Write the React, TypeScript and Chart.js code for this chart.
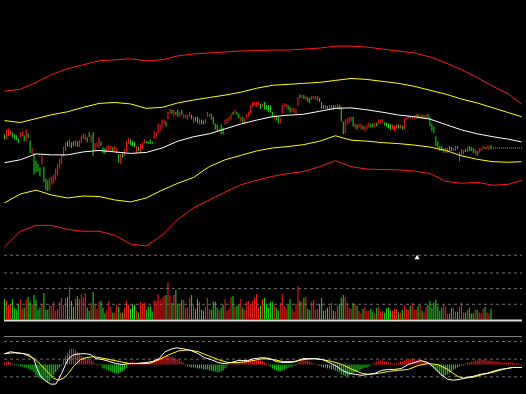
import React, { useEffect, useRef } from 'react';
import { Chart, registerables } from 'chart.js';

Chart.register(...registerables);

const WIDTH = 526;
const HEIGHT = 394;

// shared session axis (248 sessions, with room on the right for the indicator lines)
const X_MIN = -0.25;
const X_MAX = 262.75;

// ---------- price panel ----------
// 1 = up session (red), 0 = down session (green)
const candleUp =
  '0111000011' + '0100100001' + '0001111111' + '1101001011' + '1100101110' +
  '0011101101' + '0111000101' + '1100001111' + '1101101001' + '0111101001' +
  '0011100001' + '0011110100' + '1011111111' + '0100000100' + '1111001111' +
  '0101001111' + '0001011011' + '0001111010' + '1101110010' + '1110000111' +
  '0101110111' + '0101100000' + '0001110011' + '0111010001' + '01110110';

const highs = [
  167, 172, 173, 171, 169, 167, 166, 163, 169, 170,
  166, 172, 168, 161, 153, 148, 140, 137, 133, 145,
  134, 122, 120, 123, 124, 126, 132, 137, 142, 147,
  154, 159, 160, 162, 159, 160, 161, 160, 161, 166,
  168, 167, 164, 169, 166, 169, 158, 159, 164, 160,
  154, 153, 155, 156, 155, 154, 155, 153, 147, 147,
  148, 152, 160, 163, 162, 160, 159, 155, 154, 157,
  159, 162, 160, 160, 162, 160, 170, 169, 178, 177,
  182, 182, 180, 190, 193, 192, 192, 190, 192, 190,
  192, 188, 187, 187, 190, 187, 185, 185, 185, 183,
  182, 181, 183, 190, 188, 188, 185, 178, 177, 173,
  177, 174, 182, 183, 185, 188, 190, 192, 190, 188,
  185, 185, 183, 188, 190, 197, 200, 200, 200, 200,
  198, 198, 200, 197, 197, 197, 190, 187, 186, 185,
  184, 197, 199, 198, 197, 195, 194, 194, 193, 205,
  208, 207, 207, 206, 205, 204, 206, 206, 206, 206,
  204, 200, 197, 197, 196, 197, 197, 197, 197, 198,
  197, 195, 180, 182, 183, 185, 185, 185, 178, 177,
  178, 178, 176, 175, 177, 179, 178, 178, 179, 179,
  182, 182, 182, 179, 179, 178, 177, 177, 176, 177,
  177, 177, 176, 183, 185, 186, 185, 185, 185, 188,
  188, 187, 187, 187, 187, 188, 185, 178, 175, 165,
  160, 155, 155, 153, 153, 153, 155, 154, 153, 155,
  155, 149, 152, 151, 152, 154, 155, 154, 153, 152,
  150, 153, 153, 155, 154, 155, 155, 156,
];

const lows = [
  162, 162, 165, 166, 164, 162, 161, 158, 164, 165,
  160, 160, 163, 148, 147, 126, 128, 129, 124, 136,
  118, 110, 109, 110, 116, 117, 120, 125, 132, 137,
  144, 150, 154, 154, 153, 155, 155, 154, 154, 158,
  162, 161, 159, 164, 159, 145, 150, 154, 153, 155,
  148, 147, 149, 150, 149, 149, 150, 148, 138, 137,
  143, 145, 150, 157, 156, 155, 154, 148, 150, 148,
  152, 158, 158, 157, 157, 157, 162, 163, 168, 170,
  173, 177, 175, 182, 188, 188, 185, 187, 185, 185,
  187, 183, 183, 182, 185, 182, 178, 180, 178, 177,
  177, 177, 178, 185, 185, 182, 177, 172, 170, 170,
  167, 167, 177, 178, 180, 182, 187, 188, 187, 183,
  180, 178, 178, 183, 185, 188, 195, 197, 195, 197,
  193, 195, 192, 192, 190, 189, 184, 182, 181, 178,
  178, 188, 195, 194, 192, 189, 190, 189, 188, 196,
  204, 204, 203, 202, 200, 199, 202, 203, 202, 201,
  200, 193, 193, 193, 193, 192, 193, 192, 193, 193,
  192, 180, 167, 168, 177, 178, 180, 175, 173, 172,
  174, 172, 172, 170, 172, 174, 174, 174, 174, 175,
  177, 178, 179, 176, 175, 173, 172, 172, 170, 173,
  173, 173, 172, 172, 182, 183, 183, 182, 182, 183,
  183, 183, 183, 183, 183, 183, 175, 170, 168, 155,
  153, 150, 150, 148, 148, 148, 150, 150, 150, 150,
  152, 139, 145, 146, 149, 149, 150, 150, 148, 147,
  145, 148, 150, 152, 152, 152, 151, 152,
];

const lastClose = 153;
const lastCloseStartIdx = 248;
const markerIdx = 209.5;
const markerPrice = 41;

// band lines (sampled sessions)
const bandIdx = [
  0, 8, 16, 24, 32, 40, 48, 56, 64, 72, 80, 88, 96, 104, 112, 120, 128,
  136, 144, 152, 160, 168, 176, 184, 192, 200, 208, 216, 224, 232, 240, 248, 256, 262.5,
];
const outerUpper = [
  211, 213, 220, 228, 234, 238, 242, 243, 244, 242,
  243, 247, 249, 250, 251, 252, 252.5, 253, 253, 254,
  255, 257, 257, 256, 254, 252, 250, 246, 240, 233,
  225, 216, 208, 198,
];
const innerUpper = [
  181, 179, 183, 187, 190, 194.5, 198.5, 199.5, 198, 193.5,
  194.5, 199, 202, 204.5, 207, 210, 214, 217, 218, 219,
  220, 222, 224, 223, 221, 219, 216, 212, 208, 203,
  199, 194, 189, 185,
];
const middle = [
  138, 141, 147, 146, 146, 149, 150.5, 149, 147.5, 148.5,
  153, 160, 164.5, 167.5, 172.5, 177.5, 181.5, 185, 186.5, 187.5,
  190.5, 193.5, 194, 192, 189.5, 186.7, 185, 182.5, 177, 171.5,
  167.5, 164.5, 162, 159.2,
];
const innerLower = [
  97, 106, 110, 105, 102, 104, 103.5, 100, 98, 102,
  110, 117, 123, 134, 141, 145.5, 150, 153, 154.5, 156.5,
  160, 165.5, 161, 160, 158.5, 157.5, 156, 154, 150.5, 145,
  141.5, 139, 138.5, 139,
];
const outerLower = [
  52, 68, 74, 74, 70, 68, 68, 64, 55, 53,
  64, 80, 92, 100, 108, 115.5, 120, 124, 127, 129,
  134, 140, 134, 131.5, 131, 130.7, 129.5, 127, 119, 117,
  118, 115, 116, 120,
];

// ---------- volume panel ----------
const volumes = [
  21, 19, 15, 15, 21, 12, 10, 16, 21, 11,
  12, 20, 23, 18, 16, 25, 20, 10, 12, 16,
  27, 10, 10, 15, 14, 18, 9, 11, 18, 22,
  15, 22, 23, 33, 19, 13, 21, 24, 21, 25,
  23, 27, 12, 9, 17, 28, 15, 11, 18, 19,
  12, 6, 10, 19, 13, 7, 7, 15, 13, 7,
  7, 12, 19, 15, 11, 15, 15, 9, 7, 18,
  16, 17, 10, 13, 14, 8, 19, 19, 26, 20,
  22, 24, 25, 38, 25, 17, 25, 30, 16, 16,
  20, 20, 12, 12, 22, 25, 15, 11, 21, 18,
  10, 9, 13, 22, 11, 10, 18, 18, 12, 10,
  12, 15, 21, 9, 11, 23, 24, 13, 14, 15,
  21, 12, 10, 18, 19, 15, 19, 23, 26, 12,
  14, 21, 22, 16, 12, 18, 18, 14, 12, 9,
  17, 26, 14, 11, 15, 21, 11, 8, 16, 34,
  19, 18, 22, 23, 11, 10, 18, 20, 10, 11,
  16, 22, 9, 10, 12, 14, 17, 9, 8, 14,
  16, 22, 25, 23, 17, 12, 11, 17, 16, 14,
  9, 6, 11, 13, 9, 9, 11, 8, 6, 12,
  13, 8, 9, 7, 12, 12, 9, 9, 11, 11,
  7, 7, 10, 15, 11, 10, 14, 17, 10, 10,
  14, 15, 9, 7, 13, 15, 19, 12, 17, 20,
  14, 9, 12, 15, 13, 6, 6, 12, 12, 8,
  8, 13, 17, 7, 7, 10, 12, 6, 6, 10,
  10, 7, 6, 11, 13, 7, 6, 11,
];
const volGridLevels = [65.5, 47.5, 31.5, 15.5];
const volBaseLevel = -1;

// ---------- MACD panel (units of 0.01) ----------
const macdHist = [
  2, 3, 3, 2, 1, -1,
  -1, -1, -2, -2, -3, -3, -4, -5, -6, -8,
  -11, -13, -14, -15, -16, -17, -18, -17, -14, -11, -8,
  -5, -3, -1,
  6, 9, 12, 15, 16, 16, 15, 13, 11, 9, 8, 7, 6, 5, 4, 3,
  1, -1, 1, -1,
  -4, -4, -5, -6, -7, -8, -9, -9, -9, -8, -7, -5, -3,
  1, 2, 3, 2,
  1, 1, 2, 1, 1, 2, 2, 3, 3, 4,
  5, 6, 7, 8, 8, 9, 9, 8, 8, 7, 6, 5, 4, 3, 2,
  -1, -2, -2, -3, -3, -3, -4, -4, -4, -5,
  -5, -5, -6, -6, -7, -7, -8, -8, -7, -6, -4, -2,
  1, 2, 3, 3, 2, 2, 1,
  3, 4, 5, 5, 5, 6, 5, 4, 5, 4, 3,
  2, 1, 1,
  -2, -4, -5, -6, -7, -7, -6, -5, -4, -3, -2, -2, -1, -1,
  2, 4, 5, 5, 4, 4, 3, 2, 1, 1,
  -1, -1, -2, -3, -3, -4, -4, -5, -5, -6, -7, -8, -10, -11, -12, -12, -11, -10, -9, -8,
  -7, -6, -5, -4, -3, -3, -2, -1,
  1, 2, 3, 4, 4, 4, 3, 3, 2, 2, 1, 1, 1, 2, 3,
  3, 4, 5, 5, 6, 6, 6, 5, 5, 4, 4, 3, 3, 2, 1,
  -2, -4, -6, -8, -10, -12, -12, -11, -10, -9, -7, -5, -4, -3, -2, -1, -1,
  1, 2, 2, 3, 3, 4, 4, 5, 5, 5, 5, 4, 4, 4, 3, 3, 3, 3, 2, 2,
  2, 2, 2, 2, 2, 1, 1, 1,
];
const difIdx = [
  0, 3, 10, 12.5, 15, 16.5, 18.3, 21, 23.5, 26,
  27.5, 29, 31, 32.5, 35, 38.5, 41.5, 44, 46.5, 50,
  53.5, 56.5, 60, 63.5, 66.5, 71.5, 75, 78.5, 81.5, 85,
  87.5, 91, 95, 98.5, 101.5, 105, 108.5, 111.5, 115, 118.5,
  123.5, 126.5, 131.5, 135, 138, 141.5, 145, 148, 151.5, 155,
  158, 161.5, 165, 168, 171.5, 175, 178, 181.5, 185, 188,
  191.5, 195, 198, 201.5, 205, 208, 211.5, 215, 218, 221.5,
  225, 228, 231.5, 235, 238, 241.5, 245, 248, 251.5, 255,
  258, 262.75,
];
const difVals = [
  11, 13, 11, 10, 5, -4, -12, -17, -20, -20,
  -15, -9, 0, 6, 10, 11, 11, 10, 6, 5,
  3, 1, 0, 1, 1, 2, 3, 6, 13, 16,
  17, 16, 14, 11, 7, 5, 2, 1, 2, 4,
  4, 6, 7, 6, 3, 2, 2, 3, 6, 6,
  6, 5, 2, -1, -6, -9, -10, -11, -10, -9,
  -6, -5, -5, -4, 0, 2, 4, 2, -3, -10,
  -15, -16, -15, -13, -12, -10, -9, -7, -5, -4,
  -3, -3,
];
const deaIdx = [
  0, 5, 10, 15, 18.3, 21.5, 25, 27.5, 30, 32.5,
  35, 38.5, 41.5, 45, 48.5, 53.5, 58.5, 63.5, 68.5, 73.5,
  78.5, 83.5, 88.5, 93.5, 98.5, 103.5, 108.5, 113.5, 118.5, 123.5,
  128.5, 131.5, 136.5, 141.5, 146.5, 151.5, 156.5, 161.5, 166.5, 171.5,
  176.5, 181.5, 185, 190, 195, 200, 205, 210, 215, 220,
  225, 230, 233, 238, 243, 248, 253, 258, 262.75,
];
const deaVals = [
  11, 12, 11, 6, 0, -7, -14, -16, -14, -9,
  -2, 5, 7, 8, 7, 5, 3, 1, 1, 1,
  5, 10, 14, 15, 13, 9, 5, 2, 2, 3,
  5, 6, 5, 3, 3, 5, 6, 5, 3, 0,
  -5, -9, -10, -9, -7, -6, -5, -1, 1, 0,
  -5, -12, -14, -13, -10, -8, -5, -3, -3,
];
const macdGridLevels = [23.5, 5.5, -12.5];
const macdTopLevel = 28.5;

// ---------- colours ----------
const UP = '#ff2020';
const DOWN = '#18e018';
const GRID = '#6e6e6e';

export default function App() {
  const canvasRef = useRef<HTMLCanvasElement | null>(null);

  useEffect(() => {
    const canvas = canvasRef.current;
    if (!canvas) return;

    const pts = (xs: number[], ys: number[]) => xs.map((x, k) => ({ x, y: ys[k] }));
    const line = (data: any[], color: string, axis: string, order: number, extra: any = {}) => ({
      type: 'line',
      data,
      borderColor: color,
      borderWidth: 1,
      pointRadius: 0,
      tension: 0,
      fill: false,
      yAxisID: axis,
      order,
      ...extra,
    });
    const hline = (level: number, color: string, axis: string, order: number, extra: any = {}) =>
      line([{ x: X_MIN, y: level }, { x: X_MAX, y: level }], color, axis, order, extra);
    const dirColor = (i: number) => (candleUp[i] === '1' ? UP : DOWN);

    const bar = (data: any[], colors: string[], axis: string) => ({
      type: 'bar',
      data,
      backgroundColor: colors,
      borderWidth: 0,
      barThickness: 1,
      maxBarThickness: 1,
      grouped: false,
      inflateAmount: 0,
      yAxisID: axis,
      order: 2,
    });

    const chart = new Chart(canvas, {
      type: 'bar',
      data: {
        datasets: [
          line(pts(difIdx, difVals), '#ffffff', 'yMacd', 0),
          line(pts(deaIdx, deaVals), '#ffff00', 'yMacd', 0),
          {
            type: 'line',
            data: [{ x: markerIdx, y: markerPrice }],
            showLine: false,
            pointStyle: 'triangle',
            pointRadius: 3,
            pointBackgroundColor: '#ffffff',
            pointBorderColor: '#ffffff',
            pointBorderWidth: 0,
            yAxisID: 'yMain',
            order: 0,
          },
          line(pts(bandIdx, outerUpper), '#ff1a1a', 'yMain', 1),
          line(pts(bandIdx, innerUpper), '#ffff00', 'yMain', 1),
          line(pts(bandIdx, middle), '#ffffff', 'yMain', 1),
          line(pts(bandIdx, innerLower), '#ffff00', 'yMain', 1),
          line(pts(bandIdx, outerLower), '#ff1a1a', 'yMain', 1),
          line(
            [{ x: lastCloseStartIdx, y: lastClose }, { x: X_MAX, y: lastClose }],
            '#a0a0a0', 'yMain', 1, { borderDash: [1, 1] }
          ),
          bar(highs.map((h, i) => ({ x: i, y: [lows[i], h] })), highs.map((_, i) => dirColor(i)), 'yMain'),
          bar(volumes.map((v, i) => ({ x: i, y: v })), volumes.map((_, i) => dirColor(i)), 'yVol'),
          bar(macdHist.map((v, i) => ({ x: i, y: v })), macdHist.map((v) => (v >= 0 ? UP : DOWN)), 'yMacd'),
          hline(volBaseLevel, '#dcdcdc', 'yVol', 4, { borderWidth: 2 }),
          hline(macdTopLevel, '#8a8a8a', 'yMacd', 4),
          ...volGridLevels.map((l) => hline(l, GRID, 'yVol', 5, { borderDash: [3, 3] })),
          ...macdGridLevels.map((l) => hline(l, GRID, 'yMacd', 5, { borderDash: [3, 3] })),
        ] as any,
      },
      options: {
        responsive: false,
        maintainAspectRatio: false,
        animation: false,
        devicePixelRatio: 1,
        events: [],
        layout: { padding: 0 },
        plugins: { legend: { display: false }, tooltip: { enabled: false } },
        scales: {
          x: { type: 'linear', min: X_MIN, max: X_MAX, display: false, offset: false },
          yMain: { type: 'linear', position: 'left', min: -94, max: 300, display: false },
          yVol: { type: 'linear', position: 'left', min: -72, max: 322, display: false },
          yMacd: { type: 'linear', position: 'left', min: -26, max: 368, display: false },
        },
      } as any,
    });

    return () => chart.destroy();
  }, []);

  return (
    <div
      style={{
        position: 'fixed',
        left: 0,
        top: 0,
        width: WIDTH,
        height: HEIGHT,
        background: '#000000',
        overflow: 'hidden',
      }}
    >
      <canvas ref={canvasRef} width={WIDTH} height={HEIGHT} style={{ display: 'block' }} />
    </div>
  );
}
